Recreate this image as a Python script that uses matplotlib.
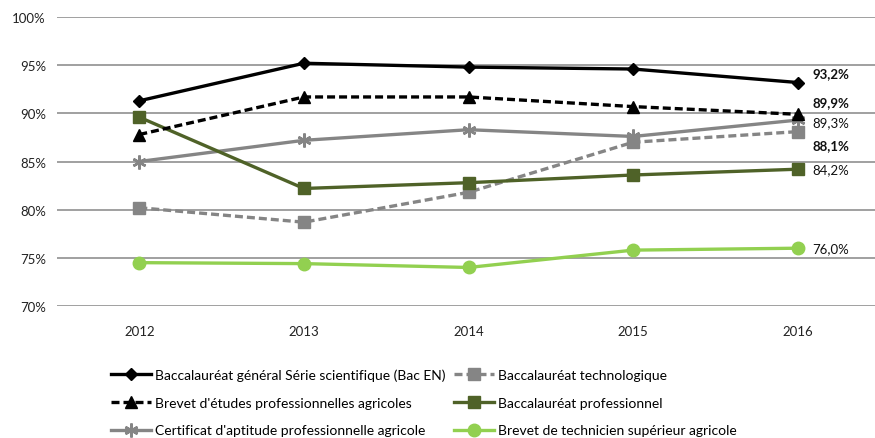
import matplotlib
matplotlib.use("Agg")
import matplotlib.pyplot as plt

years = ["2012", "2013", "2014", "2015", "2016"]
bac_s = [91.3, 95.2, 94.8, 94.6, 93.2]
bac_techno = [80.2, 78.7, 81.8, 87.0, 88.1]
bepa = [87.8, 91.7, 91.7, 90.7, 89.9]
bac_pro = [89.6, 82.2, 82.8, 83.6, 84.2]
capa = [85.0, 87.2, 88.3, 87.6, 89.3]
btsa = [74.5, 74.4, 74.0, 75.8, 76.0]
yticks = [70, 75, 80, 85, 90, 95, 100]

labels = {
    "bac_s": "Baccalauréat général Série scientifique (Bac EN)",
    "bac_techno": "Baccalauréat technologique",
    "bepa": "Brevet d'études professionnelles agricoles",
    "bac_pro": "Baccalauréat professionnel",
    "capa": "Certificat d'aptitude professionnelle agricole",
    "btsa": "Brevet de technicien supérieur agricole",
}

plt.rcParams['font.family'] = ['Lato', 'DejaVu Sans']

fig = plt.figure(figsize=(8.75, 4.39), dpi=100)
ax = fig.add_axes([57/875, 1-307/439, 823/875, 289/439])

x = list(range(len(years)))
lw = 2.4
h_s, = ax.plot(x, bac_s, color="#000000", lw=lw, marker="D", ms=6.5, label=labels["bac_s"], zorder=5)
h_bepa, = ax.plot(x, bepa, color="#000000", lw=lw, ls=(0, (2.4, 1.2)), marker="^", ms=8, label=labels["bepa"], zorder=5)
h_capa, = ax.plot(x, capa, color="#858585", lw=lw, marker=(6, 2, 0), ms=10, mew=1.8, label=labels["capa"], zorder=4)
h_techno, = ax.plot(x, bac_techno, color="#858585", lw=lw, ls=(0, (2.4, 1.2)), marker="s", ms=9, label=labels["bac_techno"], zorder=4)
h_pro, = ax.plot(x, bac_pro, color="#4f6228", lw=lw, marker="s", ms=8, label=labels["bac_pro"], zorder=4)
h_btsa, = ax.plot(x, btsa, color="#92d050", lw=lw, marker="o", ms=9, label=labels["btsa"], zorder=4)

ax.set_xlim(-0.5, 4.5)
ax.set_ylim(70, 100)
ax.set_yticks(yticks)
ax.set_yticklabels([f"{v}%" for v in yticks])
ax.set_xticks(x)
ax.set_xticklabels(years)
ax.grid(axis="y", color="#999999", lw=1.3)
ax.set_axisbelow(True)
for s in ax.spines.values():
    s.set_visible(False)
ax.tick_params(axis="both", length=0, labelsize=9.5, colors="#222222")
ax.tick_params(axis="x", pad=14)
ax.tick_params(axis="y", pad=8)

def fmt(v):
    return f"{v:.1f}%".replace(".", ",")

ann = [
    (bac_s[-1], 94.2, True),
    (bepa[-1], 91.2, True),
    (capa[-1], 89.1, False),
    (bac_techno[-1], 86.7, True),
    (bac_pro[-1], 84.2, False),
    (btsa[-1], 76.0, False),
]
for v, ypos, bold in ann:
    ax.text(4.09, ypos, fmt(v), fontsize=9.5, va="center", ha="left",
            fontweight="bold" if bold else "normal", color="#111111")

handles = [h_s, h_bepa, h_capa, h_techno, h_pro, h_btsa]
fig.legend(handles=handles, labels=[h.get_label() for h in handles], ncol=2,
           loc="upper left", bbox_to_anchor=(111/875, 1-369/439), frameon=False,
           fontsize=10, handlelength=2.9, labelspacing=1.15, columnspacing=0.55,
           handletextpad=0.3, borderaxespad=0, borderpad=0)

fig.savefig("out.png", dpi=100)
